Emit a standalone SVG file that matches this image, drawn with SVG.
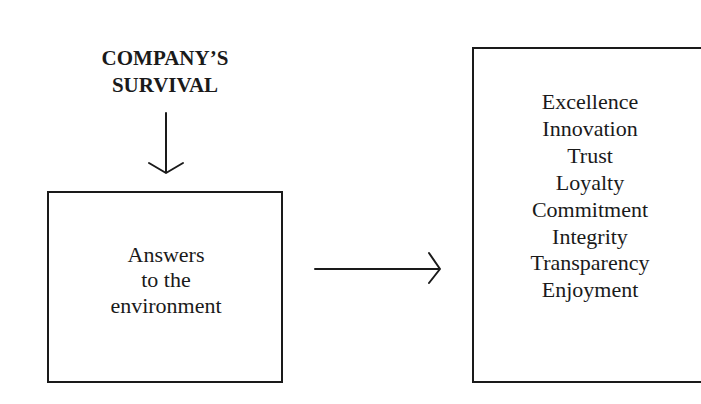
<svg xmlns="http://www.w3.org/2000/svg" width="701" height="404" viewBox="0 0 701 404">
<style>
.t{font-family:"Liberation Serif","Times New Roman",serif;font-size:22px;fill:#1a1a1a;text-anchor:middle}
.b{font-family:"Liberation Serif","Times New Roman",serif;font-size:21px;font-weight:bold;fill:#1a1a1a;text-anchor:middle}
.box{fill:none;stroke:#1a1a1a;stroke-width:2}
.ln{fill:none;stroke:#1a1a1a;stroke-width:2;stroke-linecap:round;stroke-linejoin:round}
</style>
<rect width="701" height="404" fill="#ffffff"/>
<g id="survival">
<text class="b" x="165" y="65">COMPANY’S</text>
<text class="b" x="165" y="92">SURVIVAL</text>
</g>
<g id="answers">
<rect class="box" x="48" y="192" width="234" height="190"/>
<text class="t" x="166" y="262">Answers</text>
<text class="t" x="166" y="287">to the</text>
<text class="t" x="166" y="313">environment</text>
</g>
<g id="values">
<rect class="box" x="473" y="48" width="240" height="334"/>
<text class="t" x="590" y="109">Excellence</text>
<text class="t" x="590" y="136">Innovation</text>
<text class="t" x="590" y="163">Trust</text>
<text class="t" x="590" y="190">Loyalty</text>
<text class="t" x="590" y="217">Commitment</text>
<text class="t" x="590" y="243.5">Integrity</text>
<text class="t" x="590" y="270">Transparency</text>
<text class="t" x="590" y="297">Enjoyment</text>
</g>
<g id="connectors">
<path class="ln" d="M166 113 L166 173 M149 163 L166 173 L183 163"/>
<path class="ln" d="M315 269 L440 269 M429 253 L440 269 L429 283"/>
</g>
</svg>
